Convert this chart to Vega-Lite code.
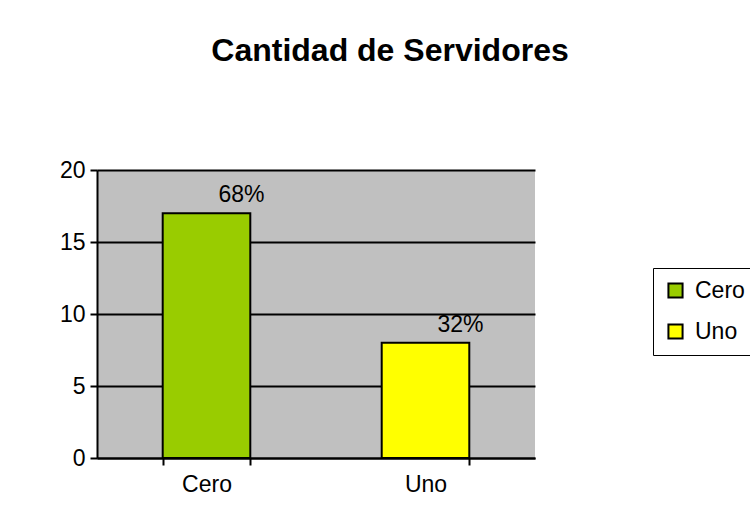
{
  "$schema": "https://vega.github.io/schema/vega-lite/v6.json",
  "autosize": {"type": "none"},
  "width": 438,
  "height": 288,
  "padding": {"left": 97, "top": 170, "right": 215, "bottom": 63},
  "background": "white",
  "title": {
    "text": "Cantidad de Servidores",
    "font": "Liberation Sans",
    "fontSize": 32,
    "fontWeight": "bold",
    "color": "black",
    "anchor": "middle",
    "dx": 74,
    "offset": 91
  },
  "data": {
    "values": [
      {"categoria": "Cero", "servidores": 17, "porcentaje": "68%"},
      {"categoria": "Uno", "servidores": 8, "porcentaje": "32%"}
    ]
  },
  "encoding": {
    "x": {
      "field": "categoria",
      "type": "nominal",
      "sort": null,
      "scale": {"paddingInner": 0.6, "paddingOuter": 0.3},
      "axis": {
        "title": null,
        "labelAngle": 0,
        "labelFont": "Liberation Sans",
        "labelFontSize": 23,
        "labelColor": "black",
        "labelPadding": 8,
        "domainColor": "black",
        "domainWidth": 2,
        "tickColor": "black",
        "tickWidth": 2,
        "tickSize": 7,
        "tickBand": "extent"
      }
    },
    "y": {
      "field": "servidores",
      "type": "quantitative",
      "scale": {"domain": [0, 20]},
      "axis": {
        "title": null,
        "values": [0, 5, 10, 15, 20],
        "labelFont": "Liberation Sans",
        "labelFontSize": 23,
        "labelColor": "black",
        "labelPadding": 5,
        "domainColor": "black",
        "domainWidth": 2,
        "tickColor": "black",
        "tickWidth": 2,
        "tickSize": 7,
        "gridColor": "black",
        "gridWidth": 2
      }
    }
  },
  "layer": [
    {
      "mark": {"type": "bar", "stroke": "black", "strokeWidth": 2},
      "encoding": {
        "color": {
          "field": "categoria",
          "type": "nominal",
          "sort": null,
          "scale": {"domain": ["Cero", "Uno"], "range": ["#99CC00", "#FFFF00"]},
          "legend": {
            "title": null,
            "orient": "none",
            "legendX": 556,
            "legendY": 98,
            "symbolType": "square",
            "symbolSize": 200,
            "symbolStrokeColor": "black",
            "symbolStrokeWidth": 2,
            "symbolOpacity": 1,
            "labelFont": "Liberation Sans",
            "labelFontSize": 23,
            "labelColor": "black",
            "labelOffset": 8,
            "rowPadding": 17,
            "padding": 11,
            "strokeColor": "black",
            "fillColor": "white"
          }
        }
      }
    },
    {
      "mark": {
        "type": "text",
        "font": "Liberation Sans",
        "fontSize": 23,
        "color": "black",
        "baseline": "alphabetic",
        "dx": 35,
        "dy": -11
      },
      "encoding": {"text": {"field": "porcentaje"}}
    }
  ],
  "config": {
    "view": {"fill": "#C0C0C0", "stroke": null}
  }
}
